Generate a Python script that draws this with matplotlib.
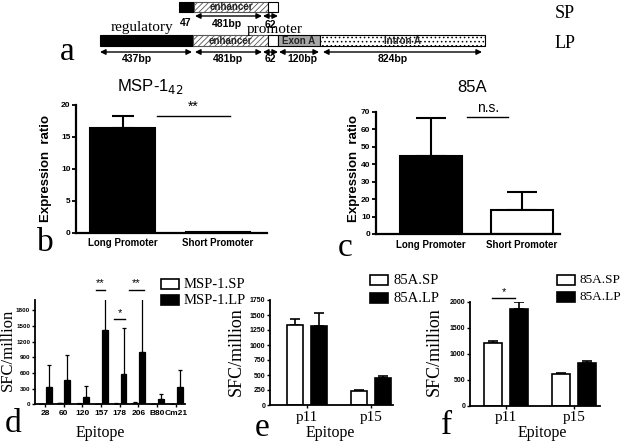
import matplotlib
matplotlib.use("Agg")
import matplotlib.pyplot as plt
from matplotlib.patches import Rectangle
import numpy as np

W, H = 624, 445
SERIF = ["Liberation Serif", "DejaVu Serif"]
NARROW = ["Liberation Sans Narrow", "Liberation Sans", "DejaVu Sans"]
SANS = ["Liberation Sans", "DejaVu Sans"]
plt.rcParams["hatch.linewidth"] = 0.6

# ---------------------------------------------------------------- data
# a: promoter constructs (segment label, bp)
SP_SEGMENTS = ["", "enhancer", ""]
SP_BP = ["47", "481bp", "62"]
LP_SEGMENTS = ["", "enhancer", "", "Exon A", "Intron A"]
LP_BP = ["437bp", "481bp", "62", "120bp", "824bp"]

# b / c: expression ratio, long vs short promoter
PROMOTERS = ["Long Promoter", "Short Promoter"]
MSP_EXPR = [16.4, 0.1]
MSP_ERR = [1.9, 0.0]
A85_EXPR = [44.5, 14.0]
A85_ERR = [22.0, 10.0]

# d: MSP-1 epitopes, SFC/million
MSP_EPITOPES = ["28", "60", "120", "157", "178", "206", "B80", "Cm21"]
MSP_SP = [10, 20, 15, 10, 12, 25, 5, 5]
MSP_SP_ERR = [5, 8, 6, 4, 5, 10, 3, 3]
MSP_LP = [340, 470, 135, 1430, 590, 1000, 110, 340]
MSP_LP_ERR = [420, 480, 215, 900, 870, 1100, 80, 325]

# e / f: 85A epitopes, SFC/million
A85_EPITOPES = ["p11", "p15"]
E_SP = [1335, 240]
E_SP_ERR = [95, 15]
E_LP = [1325, 450]
E_LP_ERR = [215, 40]
F_SP = [1205, 605]
F_SP_ERR = [35, 22]
F_LP = [1860, 820]
F_LP_ERR = [125, 40]

fig = plt.figure(figsize=(W / 100, H / 100), dpi=100)

# overlay in pixel coordinates for schematic / free text
ov = fig.add_axes([0, 0, 1, 1])
ov.set_xlim(0, W); ov.set_ylim(H, 0); ov.axis("off")


def add_px(left, top, right, bottom):
    ax = fig.add_axes([left / W, 1 - bottom / H, (right - left) / W, (bottom - top) / H])
    ax.patch.set_visible(False)
    for sp in ("top", "right"):
        ax.spines[sp].set_visible(False)
    return ax


def dbl_arrow(x0, x1, y):
    ov.annotate("", xy=(x1, y), xytext=(x0, y),
                arrowprops=dict(arrowstyle="<|-|>", lw=1.0, color="black",
                                mutation_scale=8, shrinkA=0, shrinkB=0))


# ---------------------------------------------------------------- a: schematic
def draw_construct(x0, y0, h, widths, kinds, names):
    x = x0
    for w, kind, name in zip(widths, kinds, names):
        if kind == "black":
            r = Rectangle((x, y0), w, h, fc="black", ec="black", lw=0.8)
        elif kind == "hatch":
            r = Rectangle((x, y0), w, h, fc="white", ec="#555555", lw=0.8, hatch="//////")
        elif kind == "gray":
            r = Rectangle((x, y0), w, h, fc="#a8a8a8", ec="black", lw=0.8)
        elif kind == "dots":
            r = Rectangle((x, y0), w, h, fc="white", ec="black", lw=0.8, hatch="....")
        else:
            r = Rectangle((x, y0), w, h, fc="white", ec="black", lw=0.8)
        ov.add_patch(r)
        if name:
            ov.text(x + w / 2, y0 + h / 2 + 0.5, name, ha="center", va="center",
                    fontsize=7, fontweight="bold", family=SANS, color="#222222")
        x += w
    return x


draw_construct(179, 2, 10, [15, 74, 10], ["black", "hatch", "white"], SP_SEGMENTS)
draw_construct(100, 35, 11, [93, 75, 10, 42, 165],
               ["black", "hatch", "white", "gray", "dots"], LP_SEGMENTS)

dbl_arrow(195, 262, 16)
dbl_arrow(263, 278, 16)
ov.text(186, 23, SP_BP[0], ha="center", va="center", fontsize=7.5, fontweight="bold", family=SANS)
ov.text(227, 24, SP_BP[1], ha="center", va="center", fontsize=7.5, fontweight="bold", family=SANS)
ov.text(270, 25.5, SP_BP[2], ha="center", va="center", fontsize=7.5, fontweight="bold", family=SANS)

lp_arrows = [(100, 192), (195, 262), (263, 278), (279, 319), (323, 482)]
lp_lab_x = [137, 228, 270, 302, 393]
for (a0, a1), lx, lab in zip(lp_arrows, lp_lab_x, LP_BP):
    dbl_arrow(a0, a1, 52)
    ov.text(lx, 59, lab, ha="center", va="center", fontsize=7.5, fontweight="bold", family=SANS)

ov.text(142, 28, "regulatory", ha="center", va="center", fontsize=11, family=SERIF)
ov.text(275, 30, "promoter", ha="center", va="center", fontsize=11, family=SERIF)
ov.text(565, 14, "SP", ha="center", va="center", fontsize=13, family=SERIF)
ov.text(565, 43, "LP", ha="center", va="center", fontsize=13, family=SERIF)

# panel letters
for lab, x, y in [("a", 67, 52), ("b", 45, 243), ("c", 345, 248),
                  ("d", 13, 424), ("e", 262, 428), ("f", 447, 426)]:
    ov.text(x, y, lab, ha="center", va="center", fontsize=24, family=SERIF)


# ---------------------------------------------------------------- b / c
def expr_panel(ax, vals, errs, ylim, yticks, capsize, ylab_x, ylab_y, sig, sig_x, sig_y, sig_pad):
    x = np.arange(len(vals))
    ax.bar(x, vals, width=0.68, color=["black", "white"], edgecolor="black", linewidth=1.5, zorder=2)
    for xi, v, e in zip(x, vals, errs):
        if e > 0:
            ax.errorbar(xi, v, yerr=[[0], [e]], fmt="none", ecolor="black",
                        elinewidth=1.5, capsize=capsize, capthick=1.5, zorder=1)
    ax.set_ylim(*ylim)
    ax.set_yticks(yticks)
    ax.set_xticks(x)
    ax.set_xticklabels(PROMOTERS)
    for sp in ("left", "bottom"):
        ax.spines[sp].set_linewidth(1.6)
    ax.tick_params(axis="y", direction="out", length=3, width=1.3, pad=1, labelsize=6)
    ax.tick_params(axis="x", length=0, pad=4, labelsize=7)
    for t in ax.get_xticklabels() + ax.get_yticklabels():
        t.set_family(NARROW); t.set_fontweight("bold")
    ax.plot(sig_x, [sig_y, sig_y], color="black", lw=1.0, clip_on=False)
    ax.text(np.mean(sig_x), sig_y + sig_pad, sig, ha="center", va="bottom",
            fontsize=10, family=SANS)
    ov.text(ylab_x, ylab_y, "Expression  ratio", rotation=90, ha="center", va="center",
            fontsize=9.5, fontweight="bold", family=NARROW)


axb = add_px(76, 105, 267, 232.7)
axb.set_xlim(-0.487, 1.513)
expr_panel(axb, MSP_EXPR, MSP_ERR, (0, 20), [0, 5, 10, 15, 20], 8, 46, 168,
           "**", [0.36, 1.13], 18.3, 0.3)
ov.text(150, 86, r"MSP-1$_{42}$", ha="center", va="center", fontsize=12, family=SANS)

axc = add_px(376, 112, 560, 234)
axc.set_xlim(-0.604, 1.418)
expr_panel(axc, A85_EXPR, A85_ERR, (0, 70), [0, 10, 20, 30, 40, 50, 60, 70], 11, 354, 168,
           "n.s.", [0.4, 0.85], 67, 1.5)
ov.text(472, 88, "85A", ha="center", va="center", fontsize=12, family=SANS)


# ---------------------------------------------------------------- d / e / f
def sfc_panel(ax, labels, sp, sp_err, lp, lp_err, off, width, capsize, lw, ylim, yticks,
              xlab_size, tick_serif, ylab_size=5):
    x = np.arange(len(labels))
    ax.bar(x - off, sp, width=width, color="white", edgecolor="black", linewidth=lw, zorder=2)
    ax.bar(x + off, lp, width=width, color="black", edgecolor="black", linewidth=lw, zorder=2)
    ax.errorbar(x - off, sp, yerr=[np.zeros(len(sp)), sp_err], fmt="none", ecolor="black",
                elinewidth=lw, capsize=capsize, capthick=lw, zorder=1)
    ax.errorbar(x + off, lp, yerr=[np.zeros(len(lp)), lp_err], fmt="none", ecolor="black",
                elinewidth=lw, capsize=capsize, capthick=lw, zorder=1)
    ax.set_ylim(*ylim)
    ax.set_yticks(yticks)
    ax.set_xticks(x)
    ax.set_xticklabels(labels)
    for sp_ in ("left", "bottom"):
        ax.spines[sp_].set_linewidth(1.3)
    ax.tick_params(axis="y", direction="out", length=2.5, width=1.0, pad=1, labelsize=ylab_size)
    ax.tick_params(axis="x", direction="out", length=2, width=1.0, pad=2, labelsize=xlab_size)
    for t in ax.get_yticklabels():
        t.set_family(SANS); t.set_fontweight("bold")
    for t in ax.get_xticklabels():
        if tick_serif:
            t.set_family(SERIF)
        else:
            t.set_family(SANS); t.set_fontweight("bold")


axd = add_px(35, 300, 185, 404.3)
axd.set_xlim(-0.535, 7.49)
sfc_panel(axd, MSP_EPITOPES, MSP_SP, MSP_SP_ERR, MSP_LP, MSP_LP_ERR, 0.2, 0.32, 1.5, 0.9,
          (0, 2000), np.arange(0, 1801, 300), 6, False, ylab_size=4.5)
for (x0, x1), y, s in [((2.75, 3.2), 2200, "**"), ((3.7, 4.3), 1630, "*"), ((4.5, 5.3), 2200, "**")]:
    axd.plot([x0, x1], [y, y], color="black", lw=1.0, clip_on=False)
    axd.text((x0 + x1) / 2, y + 20, s, ha="center", va="bottom", fontsize=8, family=SANS)

axe = add_px(270, 300, 393, 405)
axe.set_xlim(-0.578, 1.344)
sfc_panel(axe, A85_EPITOPES, E_SP, E_SP_ERR, E_LP, E_LP_ERR, 0.1875, 0.26, 3.5, 1.2,
          (0, 1750), np.arange(0, 1751, 250), 11, True)

axf = add_px(470, 301.7, 600, 405.7)
axf.set_xlim(-0.53, 1.38)
sfc_panel(axf, A85_EPITOPES, F_SP, F_SP_ERR, F_LP, F_LP_ERR, 0.19, 0.265, 3.5, 1.2,
          (0, 2000), np.arange(0, 2001, 500), 11, True)
axf.plot([-0.2, 0.13], [2075, 2075], color="black", lw=1.0, clip_on=False)
axf.text(-0.03, 2090, "*", ha="center", va="bottom", fontsize=8, family=SANS)

# axis titles for d/e/f
for x, y, s in [(8, 350, 12), (236, 352, 13), (434, 352, 13)]:
    ov.text(x, y, "SFC/million", rotation=90, ha="center", va="center", fontsize=s, family=SERIF)
for x, y in [(100, 433), (330, 433), (542, 433)]:
    ov.text(x, y, "Epitope", ha="center", va="center", fontsize=11.5, family=SERIF)

# legends
def legend_item(x, y, fc, label, size, gap=23):
    ov.add_patch(Rectangle((x, y - 5), 18, 10, fc=fc, ec="black", lw=1.2))
    ov.text(x + gap, y, label, ha="left", va="center", fontsize=size, family=SERIF)


legend_item(161, 284, "white", "MSP-1.SP", 10.5)
legend_item(161, 300, "black", "MSP-1.LP", 10.5)
legend_item(370, 280, "white", "85A.SP", 10.5)
legend_item(370, 298, "black", "85A.LP", 10.5)
legend_item(557, 280, "white", "85A.SP", 9.5, gap=22)
legend_item(557, 297, "black", "85A.LP", 9.5, gap=22)

fig.savefig("out.png", dpi=100)
